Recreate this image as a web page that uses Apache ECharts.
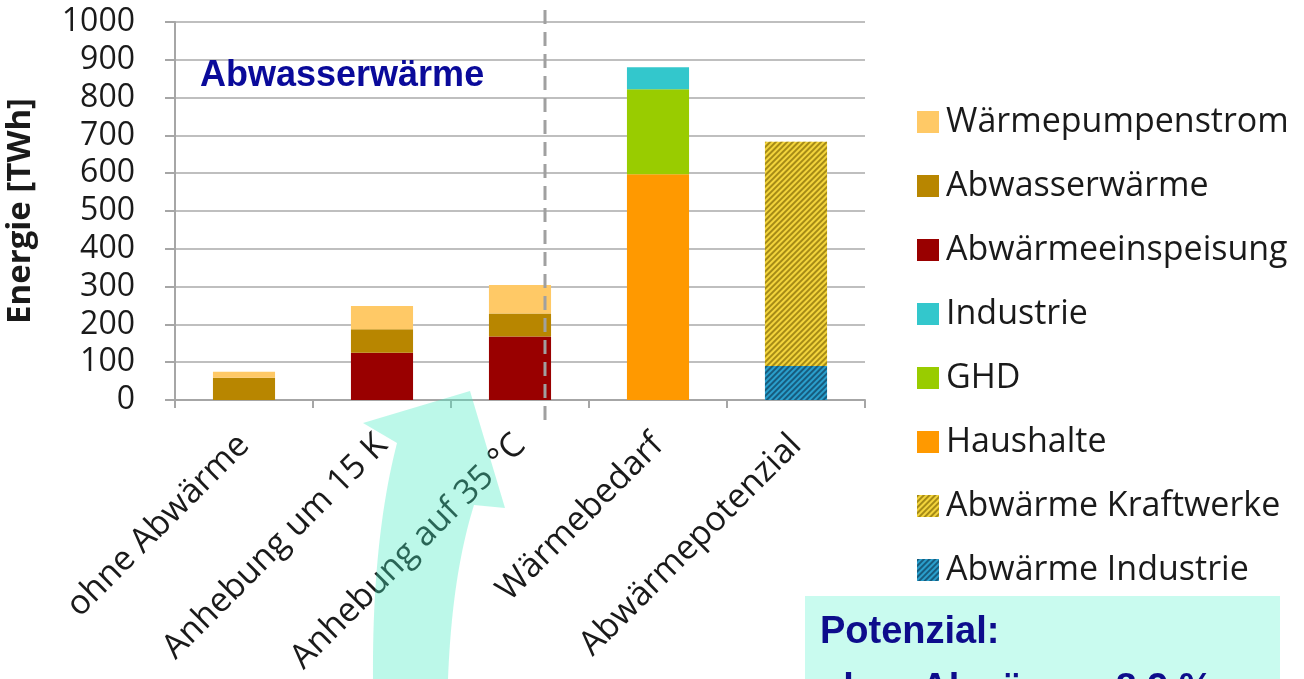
<!DOCTYPE html>
<html>
<head>
<meta charset="utf-8">
<script src="https://cdn.jsdelivr.net/npm/echarts@6/dist/echarts.min.js"></script>
<style>
  html, body { margin: 0; padding: 0; background: #fff; }
  #chart { width: 1304px; height: 679px; }
</style>
</head>
<body>
<div id="chart"></div>
<script>
// Kategorien und Werte (TWh)
const categories = ['ohne Abwärme', 'Anhebung um 15 K', 'Anhebung auf 35 °C', 'Wärmebedarf', 'Abwärmepotenzial'];
const yTicks = [0, 100, 200, 300, 400, 500, 600, 700, 800, 900, 1000];

const waermepumpenstrom   = [16, 62, 75, '-', '-'];
const abwasserwaerme      = [59, 62, 61, '-', '-'];
const abwaermeeinspeisung = [0, 125, 168, '-', '-'];
const industrie           = ['-', '-', '-', 58, '-'];
const ghd                 = ['-', '-', '-', 225, '-'];
const haushalte           = ['-', '-', '-', 597, '-'];
const abwaermeKraftwerke  = ['-', '-', '-', '-', 593];
const abwaermeIndustrie   = ['-', '-', '-', '-', 90];

const legendOrder = ['Wärmepumpenstrom', 'Abwasserwärme', 'Abwärmeeinspeisung', 'Industrie', 'GHD', 'Haushalte', 'Abwärme Kraftwerke', 'Abwärme Industrie'];

const FONT = '"Open Sans", sans-serif';

function stripes(color) {
  return { symbol: 'rect', symbolSize: 1, dashArrayX: [1, 0], dashArrayY: [2, 2], rotation: -Math.PI / 4, color: color };
}

function bar(name, data, color, decal) {
  const s = { name, type: 'bar', stack: 'total', data, barWidth: '45%', itemStyle: { color } };
  if (decal) s.itemStyle.decal = decal;
  return s;
}

const chart = echarts.init(document.getElementById('chart'));

const option = {
  animation: false,
  grid: { left: 175, right: 439, top: 22, bottom: 279, containLabel: false, outerBoundsMode: 'none' },
  legend: {
    orient: 'vertical',
    left: 912,
    top: 97,
    data: legendOrder,
    itemWidth: 22,
    itemHeight: 22,
    itemGap: 24,
    icon: 'rect',
    textStyle: { fontFamily: FONT, fontSize: 34, color: '#1a1a1a', lineHeight: 40, padding: [0, 0, 0, 2] }
  },
  xAxis: {
    type: 'category',
    data: categories,
    axisLine: { lineStyle: { color: '#a6a6a6', width: 2 } },
    axisTick: { show: true, length: 8, lineStyle: { color: '#a6a6a6', width: 2 } },
    axisLabel: { rotate: 45, interval: 0, margin: 40, fontFamily: FONT, fontSize: 34, color: '#1a1a1a' }
  },
  yAxis: {
    type: 'value',
    min: 0, max: 1000, interval: 100,
    name: 'Energie [TWh]',
    nameLocation: 'middle',
    nameGap: 138,
    nameTextStyle: { fontFamily: FONT, fontSize: 33, fontWeight: 'bold', color: '#1a1a1a' },
    axisLine: { show: true, lineStyle: { color: '#a6a6a6', width: 2 } },
    axisTick: { show: true, length: 10, lineStyle: { color: '#a6a6a6', width: 2 } },
    splitLine: { lineStyle: { color: '#bfbfbf', width: 2 } },
    axisLabel: {
      margin: 40, fontFamily: FONT, fontSize: 32, color: '#1a1a1a',
      formatter: v => (yTicks.indexOf(v) >= 0 ? String(v) : '')
    }
  },
  series: [
    bar('Abwärme Industrie', abwaermeIndustrie, '#2a9fcc', stripes('rgba(16,70,100,0.75)')),
    bar('Abwärme Kraftwerke', abwaermeKraftwerke, '#f3d43c', stripes('rgba(140,115,10,0.75)')),
    bar('Haushalte', haushalte, '#ff9900'),
    bar('GHD', ghd, '#99cc00'),
    bar('Industrie', industrie, '#33c7cc'),
    bar('Abwärmeeinspeisung', abwaermeeinspeisung, '#990000'),
    bar('Abwasserwärme', abwasserwaerme, '#b88600'),
    bar('Wärmepumpenstrom', waermepumpenstrom, '#ffc966')
  ]
};

chart.setOption(option);

// Punkte einer quadratischen Bézierkurve
function quad(p0, c, p1, n) {
  const pts = [];
  for (let i = 0; i <= n; i++) {
    const t = i / n, u = 1 - t;
    pts.push([u * u * p0[0] + 2 * u * t * c[0] + t * t * p1[0], u * u * p0[1] + 2 * u * t * c[1] + t * t * p1[1]]);
  }
  return pts;
}

// Gebogener Pfeil: linke Schaftkante, Spitze, rechte Schaftkante
const arrowPts = [].concat(
  quad([373, 679], [372, 540], [397, 443], 24),
  [[363, 423], [470, 391], [505, 508]],
  quad([474, 505], [452, 575], [448, 679], 24)
);

// Trennlinie zwischen Abwasser-Szenarien und Vergleichswerten, Textfeld, Pfeil
function drawOverlay() {
  const c2 = chart.convertToPixel({ xAxisIndex: 0 }, 2);
  const c3 = chart.convertToPixel({ xAxisIndex: 0 }, 3);
  const band = c3 - c2;
  const sepX = Math.round(c2 + band * 0.18);
  const y0 = chart.convertToPixel({ yAxisIndex: 0 }, 0);
  const yTop = chart.convertToPixel({ yAxisIndex: 0 }, 1000);

  chart.setOption({
    graphic: [
      {
        type: 'line', z: 50,
        shape: { x1: sepX, y1: yTop - 12, x2: sepX, y2: y0 + 28 },
        style: { stroke: '#a0a0a0', lineWidth: 3, lineDash: [14, 8] }
      },
      {
        type: 'text', z: 60, x: 200, y: 58,
        style: { text: 'Abwasserwärme', font: 'bold 36px "Liberation Sans", Arial, sans-serif', fill: '#0a0a9a' }
      },
      {
        type: 'rect', z: 40,
        shape: { x: 805, y: 596, width: 475, height: 100 },
        style: { fill: '#c9fbef' }
      },
      {
        type: 'polygon', z: 70,
        shape: { points: arrowPts },
        style: { fill: 'rgba(70,235,195,0.36)' }
      },
      {
        type: 'text', z: 80, x: 820, y: 604,
        style: { text: 'Potenzial:\nohne Abwärme: 8,9 %', font: 'bold 38px "Liberation Sans", Arial, sans-serif', fill: '#0d0d8c', lineHeight: 57 }
      }
    ]
  });
}
drawOverlay();
</script>
</body>
</html>
